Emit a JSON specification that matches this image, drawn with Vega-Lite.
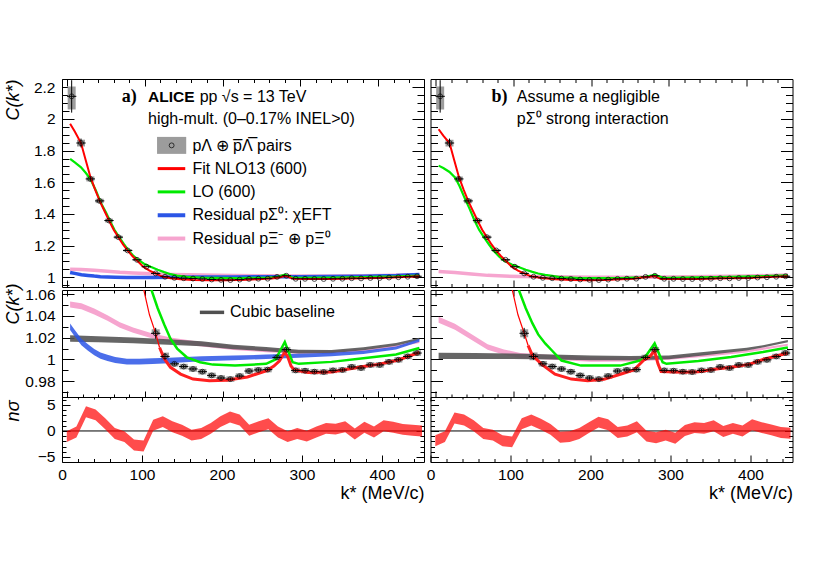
{
  "$schema": "https://vega.github.io/schema/vega-lite/v6.json",
  "background": "white",
  "padding": {"left": 3, "top": 71, "right": 0, "bottom": 0},
  "config": {
    "font": "Liberation Sans",
    "view": {"stroke": "black", "strokeWidth": 1},
    "axis": {"domain": false, "grid": false, "tickColor": "black", "tickWidth": 1, "labelColor": "black", "labelFont": "Liberation Sans", "labelFontSize": 15.5, "titleFont": "Liberation Sans", "titleFontSize": 18, "titleFontWeight": "normal", "titleColor": "black", "zindex": 1, "labelFlush": false, "labelOverlap": false},
    "text": {"font": "Liberation Sans", "fontSize": 16, "color": "black"}
  },
  "datasets": {
    "pts": [
      {"k": 6, "C": 2.143, "slo": 2.04, "shi": 2.245, "ylo": 2.06, "yhi": 2.205, "klo": 0, "khi": 12},
      {"k": 18, "C": 1.848, "slo": 1.82, "shi": 1.876, "ylo": 1.826, "yhi": 1.869, "klo": 12, "khi": 24},
      {"k": 30, "C": 1.621, "slo": 1.609, "shi": 1.633, "ylo": 1.605, "yhi": 1.637, "klo": 24, "khi": 36},
      {"k": 42, "C": 1.482, "slo": 1.472, "shi": 1.492, "ylo": 1.468, "yhi": 1.496, "klo": 36, "khi": 48},
      {"k": 54, "C": 1.358, "slo": 1.35, "shi": 1.366, "ylo": 1.346, "yhi": 1.37, "klo": 48, "khi": 60},
      {"k": 66, "C": 1.253, "slo": 1.247, "shi": 1.259, "ylo": 1.243, "yhi": 1.263, "klo": 60, "khi": 72},
      {"k": 78, "C": 1.169, "slo": 1.164, "shi": 1.174, "ylo": 1.161, "yhi": 1.177, "klo": 72, "khi": 84},
      {"k": 90, "C": 1.11, "slo": 1.106, "shi": 1.114, "ylo": 1.103, "yhi": 1.117, "klo": 84, "khi": 96},
      {"k": 102, "C": 1.066, "slo": 1.0645, "shi": 1.0675, "ylo": 1.0642, "yhi": 1.0678, "klo": 96, "khi": 108},
      {"k": 114, "C": 1.024, "slo": 1.019, "shi": 1.029, "ylo": 1.0203, "yhi": 1.0277, "klo": 108, "khi": 120},
      {"k": 126, "C": 1.0028, "slo": 0.9998, "shi": 1.0058, "ylo": 0.9993, "yhi": 1.0063, "klo": 120, "khi": 132},
      {"k": 138, "C": 0.996, "slo": 0.9945, "shi": 0.9975, "ylo": 0.9935, "yhi": 0.9985, "klo": 132, "khi": 144},
      {"k": 150, "C": 0.9935, "slo": 0.992, "shi": 0.995, "ylo": 0.991, "yhi": 0.996, "klo": 144, "khi": 156},
      {"k": 162, "C": 0.9913, "slo": 0.9898, "shi": 0.9928, "ylo": 0.9888, "yhi": 0.9938, "klo": 156, "khi": 168},
      {"k": 174, "C": 0.9888, "slo": 0.9873, "shi": 0.9903, "ylo": 0.9863, "yhi": 0.9913, "klo": 168, "khi": 180},
      {"k": 186, "C": 0.9854, "slo": 0.9839, "shi": 0.9869, "ylo": 0.9829, "yhi": 0.9879, "klo": 180, "khi": 192},
      {"k": 198, "C": 0.983, "slo": 0.9815, "shi": 0.9845, "ylo": 0.9805, "yhi": 0.9855, "klo": 192, "khi": 204},
      {"k": 210, "C": 0.982, "slo": 0.9805, "shi": 0.9835, "ylo": 0.9795, "yhi": 0.9845, "klo": 204, "khi": 216},
      {"k": 222, "C": 0.9848, "slo": 0.9833, "shi": 0.9863, "ylo": 0.9823, "yhi": 0.9873, "klo": 216, "khi": 228},
      {"k": 234, "C": 0.9894, "slo": 0.9879, "shi": 0.9909, "ylo": 0.9869, "yhi": 0.9919, "klo": 228, "khi": 240},
      {"k": 246, "C": 0.9904, "slo": 0.9889, "shi": 0.9919, "ylo": 0.9879, "yhi": 0.9929, "klo": 240, "khi": 252},
      {"k": 258, "C": 0.9907, "slo": 0.9892, "shi": 0.9922, "ylo": 0.9882, "yhi": 0.9932, "klo": 252, "khi": 264},
      {"k": 270, "C": 1.0019, "slo": 1.0004, "shi": 1.0034, "ylo": 0.9994, "yhi": 1.0044, "klo": 264, "khi": 276},
      {"k": 282, "C": 1.009, "slo": 1.0075, "shi": 1.0105, "ylo": 1.0065, "yhi": 1.0115, "klo": 276, "khi": 288},
      {"k": 294, "C": 0.99, "slo": 0.9885, "shi": 0.9915, "ylo": 0.9875, "yhi": 0.9925, "klo": 288, "khi": 300},
      {"k": 306, "C": 0.9897, "slo": 0.9882, "shi": 0.9912, "ylo": 0.9872, "yhi": 0.9922, "klo": 300, "khi": 312},
      {"k": 318, "C": 0.9888, "slo": 0.9873, "shi": 0.9903, "ylo": 0.9863, "yhi": 0.9913, "klo": 312, "khi": 324},
      {"k": 330, "C": 0.9885, "slo": 0.987, "shi": 0.99, "ylo": 0.986, "yhi": 0.991, "klo": 324, "khi": 336},
      {"k": 342, "C": 0.99, "slo": 0.9885, "shi": 0.9915, "ylo": 0.9875, "yhi": 0.9925, "klo": 336, "khi": 348},
      {"k": 354, "C": 0.9904, "slo": 0.9889, "shi": 0.9919, "ylo": 0.9879, "yhi": 0.9929, "klo": 348, "khi": 360},
      {"k": 366, "C": 0.9932, "slo": 0.9917, "shi": 0.9947, "ylo": 0.9907, "yhi": 0.9957, "klo": 360, "khi": 372},
      {"k": 378, "C": 0.9922, "slo": 0.9907, "shi": 0.9937, "ylo": 0.9897, "yhi": 0.9947, "klo": 372, "khi": 384},
      {"k": 390, "C": 0.995, "slo": 0.9935, "shi": 0.9965, "ylo": 0.9925, "yhi": 0.9975, "klo": 384, "khi": 396},
      {"k": 402, "C": 0.995, "slo": 0.9935, "shi": 0.9965, "ylo": 0.9925, "yhi": 0.9975, "klo": 396, "khi": 408},
      {"k": 414, "C": 0.9978, "slo": 0.9963, "shi": 0.9993, "ylo": 0.9953, "yhi": 1.0003, "klo": 408, "khi": 420},
      {"k": 426, "C": 0.9997, "slo": 0.9982, "shi": 1.0012, "ylo": 0.9972, "yhi": 1.0022, "klo": 420, "khi": 432},
      {"k": 438, "C": 1.0028, "slo": 1.0013, "shi": 1.0043, "ylo": 1.0003, "yhi": 1.0053, "klo": 432, "khi": 444},
      {"k": 450, "C": 1.0059, "slo": 1.0044, "shi": 1.0074, "ylo": 1.0034, "yhi": 1.0084, "klo": 444, "khi": 456}
    ],
    "cur": [
      {"p": "a", "s": "red", "k": 4, "c": 1.97}, {"p": "a", "s": "red", "k": 10, "c": 1.92}, {"p": "a", "s": "red", "k": 18, "c": 1.848}, {"p": "a", "s": "red", "k": 24, "c": 1.74}, {"p": "a", "s": "red", "k": 30, "c": 1.635}, {"p": "a", "s": "red", "k": 36, "c": 1.555}, {"p": "a", "s": "red", "k": 42, "c": 1.482}, {"p": "a", "s": "red", "k": 48, "c": 1.42}, {"p": "a", "s": "red", "k": 54, "c": 1.358}, {"p": "a", "s": "red", "k": 60, "c": 1.3}, {"p": "a", "s": "red", "k": 66, "c": 1.253}, {"p": "a", "s": "red", "k": 72, "c": 1.207}, {"p": "a", "s": "red", "k": 78, "c": 1.168}, {"p": "a", "s": "red", "k": 84, "c": 1.134}, {"p": "a", "s": "red", "k": 90, "c": 1.105}, {"p": "a", "s": "red", "k": 98, "c": 1.066}, {"p": "a", "s": "red", "k": 106, "c": 1.041}, {"p": "a", "s": "red", "k": 114, "c": 1.024}, {"p": "a", "s": "red", "k": 119, "c": 1.011}, {"p": "a", "s": "red", "k": 125, "c": 1.0007}, {"p": "a", "s": "red", "k": 133, "c": 0.9928}, {"p": "a", "s": "red", "k": 146, "c": 0.9866}, {"p": "a", "s": "red", "k": 162, "c": 0.982}, {"p": "a", "s": "red", "k": 183, "c": 0.9805}, {"p": "a", "s": "red", "k": 205, "c": 0.981}, {"p": "a", "s": "red", "k": 232, "c": 0.984}, {"p": "a", "s": "red", "k": 256, "c": 0.9895}, {"p": "a", "s": "red", "k": 266, "c": 0.994}, {"p": "a", "s": "red", "k": 273, "c": 0.9985}, {"p": "a", "s": "red", "k": 280, "c": 1.0068}, {"p": "a", "s": "red", "k": 284, "c": 1.002}, {"p": "a", "s": "red", "k": 288, "c": 0.994}, {"p": "a", "s": "red", "k": 292, "c": 0.9904}, {"p": "a", "s": "red", "k": 310, "c": 0.988}, {"p": "a", "s": "red", "k": 340, "c": 0.9885}, {"p": "a", "s": "red", "k": 381, "c": 0.9935}, {"p": "a", "s": "red", "k": 400, "c": 0.9955}, {"p": "a", "s": "red", "k": 426, "c": 0.9995}, {"p": "a", "s": "red", "k": 453, "c": 1.0065},
      {"p": "a", "s": "green", "k": 4, "c": 1.747}, {"p": "a", "s": "green", "k": 10, "c": 1.725}, {"p": "a", "s": "green", "k": 18, "c": 1.694}, {"p": "a", "s": "green", "k": 24, "c": 1.66}, {"p": "a", "s": "green", "k": 30, "c": 1.621}, {"p": "a", "s": "green", "k": 37, "c": 1.55}, {"p": "a", "s": "green", "k": 44, "c": 1.465}, {"p": "a", "s": "green", "k": 50, "c": 1.41}, {"p": "a", "s": "green", "k": 55, "c": 1.358}, {"p": "a", "s": "green", "k": 61, "c": 1.3}, {"p": "a", "s": "green", "k": 67, "c": 1.253}, {"p": "a", "s": "green", "k": 73, "c": 1.21}, {"p": "a", "s": "green", "k": 79, "c": 1.169}, {"p": "a", "s": "green", "k": 85, "c": 1.137}, {"p": "a", "s": "green", "k": 92, "c": 1.108}, {"p": "a", "s": "green", "k": 99, "c": 1.085}, {"p": "a", "s": "green", "k": 107.5, "c": 1.066}, {"p": "a", "s": "green", "k": 116.6, "c": 1.047}, {"p": "a", "s": "green", "k": 125, "c": 1.032}, {"p": "a", "s": "green", "k": 133, "c": 1.019}, {"p": "a", "s": "green", "k": 141.6, "c": 1.01}, {"p": "a", "s": "green", "k": 154, "c": 1.002}, {"p": "a", "s": "green", "k": 171, "c": 0.9975}, {"p": "a", "s": "green", "k": 187.5, "c": 0.9953}, {"p": "a", "s": "green", "k": 216, "c": 0.9944}, {"p": "a", "s": "green", "k": 256, "c": 0.996}, {"p": "a", "s": "green", "k": 268, "c": 1.0}, {"p": "a", "s": "green", "k": 280, "c": 1.016}, {"p": "a", "s": "green", "k": 290, "c": 0.9975}, {"p": "a", "s": "green", "k": 298, "c": 0.996}, {"p": "a", "s": "green", "k": 340, "c": 0.9978}, {"p": "a", "s": "green", "k": 381, "c": 1.0012}, {"p": "a", "s": "green", "k": 423, "c": 1.0046}, {"p": "a", "s": "green", "k": 453, "c": 1.0105},
      {"p": "a", "s": "blue", "k": 4, "c": 1.03, "lo": 1.027, "hi": 1.033}, {"p": "a", "s": "blue", "k": 10, "c": 1.024, "lo": 1.021, "hi": 1.027}, {"p": "a", "s": "blue", "k": 18.5, "c": 1.016, "lo": 1.0131, "hi": 1.0189}, {"p": "a", "s": "blue", "k": 27, "c": 1.011, "lo": 1.0081, "hi": 1.0139}, {"p": "a", "s": "blue", "k": 35, "c": 1.0068, "lo": 1.0039, "hi": 1.0097}, {"p": "a", "s": "blue", "k": 43, "c": 1.0035, "lo": 1.0007, "hi": 1.0063}, {"p": "a", "s": "blue", "k": 52, "c": 1.0015, "lo": 0.9987, "hi": 1.0043}, {"p": "a", "s": "blue", "k": 62, "c": 0.9995, "lo": 0.9967, "hi": 1.0023}, {"p": "a", "s": "blue", "k": 77, "c": 0.998, "lo": 0.9953, "hi": 1.0007}, {"p": "a", "s": "blue", "k": 93, "c": 0.998, "lo": 0.9954, "hi": 1.0006}, {"p": "a", "s": "blue", "k": 110, "c": 0.9985, "lo": 0.9959, "hi": 1.0011}, {"p": "a", "s": "blue", "k": 131, "c": 0.999, "lo": 0.9965, "hi": 1.0015}, {"p": "a", "s": "blue", "k": 173, "c": 1.0006, "lo": 0.9983, "hi": 1.0029}, {"p": "a", "s": "blue", "k": 214, "c": 1.0015, "lo": 0.9994, "hi": 1.0036}, {"p": "a", "s": "blue", "k": 256, "c": 1.0025, "lo": 1.0005, "hi": 1.0045}, {"p": "a", "s": "blue", "k": 298, "c": 1.0035, "lo": 1.0017, "hi": 1.0053}, {"p": "a", "s": "blue", "k": 340, "c": 1.0045, "lo": 1.0029, "hi": 1.0061}, {"p": "a", "s": "blue", "k": 381, "c": 1.0065, "lo": 1.005, "hi": 1.008}, {"p": "a", "s": "blue", "k": 423, "c": 1.0105, "lo": 1.0092, "hi": 1.0118}, {"p": "a", "s": "blue", "k": 453, "c": 1.0175, "lo": 1.0163, "hi": 1.0187},
      {"p": "a", "s": "pink", "k": 4, "c": 1.0504, "lo": 1.0476, "hi": 1.0532}, {"p": "a", "s": "pink", "k": 18.5, "c": 1.0488, "lo": 1.0461, "hi": 1.0515}, {"p": "a", "s": "pink", "k": 35, "c": 1.044, "lo": 1.0413, "hi": 1.0467}, {"p": "a", "s": "pink", "k": 52, "c": 1.038, "lo": 1.0354, "hi": 1.0406}, {"p": "a", "s": "pink", "k": 68, "c": 1.0317, "lo": 1.0292, "hi": 1.0342}, {"p": "a", "s": "pink", "k": 85, "c": 1.027, "lo": 1.0246, "hi": 1.0294}, {"p": "a", "s": "pink", "k": 110, "c": 1.0215, "lo": 1.0192, "hi": 1.0238}, {"p": "a", "s": "pink", "k": 135, "c": 1.0177, "lo": 1.0155, "hi": 1.0199}, {"p": "a", "s": "pink", "k": 173, "c": 1.014, "lo": 1.0119, "hi": 1.0161}, {"p": "a", "s": "pink", "k": 214, "c": 1.0106, "lo": 1.0087, "hi": 1.0125}, {"p": "a", "s": "pink", "k": 256, "c": 1.0084, "lo": 1.0067, "hi": 1.0101}, {"p": "a", "s": "pink", "k": 298, "c": 1.0068, "lo": 1.0053, "hi": 1.0083}, {"p": "a", "s": "pink", "k": 340, "c": 1.0068, "lo": 1.0054, "hi": 1.0082}, {"p": "a", "s": "pink", "k": 381, "c": 1.0084, "lo": 1.0072, "hi": 1.0096}, {"p": "a", "s": "pink", "k": 423, "c": 1.0121, "lo": 1.0111, "hi": 1.0131}, {"p": "a", "s": "pink", "k": 453, "c": 1.016, "lo": 1.0151, "hi": 1.0169},
      {"p": "a", "s": "gray", "k": 4, "c": 1.0192, "lo": 1.0162, "hi": 1.0222}, {"p": "a", "s": "gray", "k": 40, "c": 1.0185, "lo": 1.0157, "hi": 1.0213}, {"p": "a", "s": "gray", "k": 85, "c": 1.0175, "lo": 1.0149, "hi": 1.0201}, {"p": "a", "s": "gray", "k": 130, "c": 1.016, "lo": 1.0135, "hi": 1.0185}, {"p": "a", "s": "gray", "k": 173, "c": 1.0145, "lo": 1.0122, "hi": 1.0168}, {"p": "a", "s": "gray", "k": 214, "c": 1.0115, "lo": 1.0094, "hi": 1.0136}, {"p": "a", "s": "gray", "k": 256, "c": 1.0095, "lo": 1.0076, "hi": 1.0114}, {"p": "a", "s": "gray", "k": 298, "c": 1.0072, "lo": 1.0055, "hi": 1.0089}, {"p": "a", "s": "gray", "k": 340, "c": 1.0072, "lo": 1.0056, "hi": 1.0088}, {"p": "a", "s": "gray", "k": 381, "c": 1.0098, "lo": 1.0084, "hi": 1.0112}, {"p": "a", "s": "gray", "k": 423, "c": 1.0138, "lo": 1.0126, "hi": 1.015}, {"p": "a", "s": "gray", "k": 453, "c": 1.0188, "lo": 1.0177, "hi": 1.0199},
      {"p": "b", "s": "red", "k": 4, "c": 1.935}, {"p": "b", "s": "red", "k": 10, "c": 1.895}, {"p": "b", "s": "red", "k": 18, "c": 1.848}, {"p": "b", "s": "red", "k": 24, "c": 1.74}, {"p": "b", "s": "red", "k": 30, "c": 1.635}, {"p": "b", "s": "red", "k": 36, "c": 1.555}, {"p": "b", "s": "red", "k": 42, "c": 1.482}, {"p": "b", "s": "red", "k": 48, "c": 1.42}, {"p": "b", "s": "red", "k": 54, "c": 1.358}, {"p": "b", "s": "red", "k": 60, "c": 1.3}, {"p": "b", "s": "red", "k": 66, "c": 1.253}, {"p": "b", "s": "red", "k": 72, "c": 1.207}, {"p": "b", "s": "red", "k": 78, "c": 1.168}, {"p": "b", "s": "red", "k": 84, "c": 1.134}, {"p": "b", "s": "red", "k": 90, "c": 1.105}, {"p": "b", "s": "red", "k": 98, "c": 1.066}, {"p": "b", "s": "red", "k": 106, "c": 1.041}, {"p": "b", "s": "red", "k": 114, "c": 1.024}, {"p": "b", "s": "red", "k": 119, "c": 1.013}, {"p": "b", "s": "red", "k": 124.5, "c": 1.0037}, {"p": "b", "s": "red", "k": 137, "c": 0.9953}, {"p": "b", "s": "red", "k": 153.6, "c": 0.9866}, {"p": "b", "s": "red", "k": 174.6, "c": 0.982}, {"p": "b", "s": "red", "k": 195.6, "c": 0.9804}, {"p": "b", "s": "red", "k": 216.6, "c": 0.9818}, {"p": "b", "s": "red", "k": 237.6, "c": 0.9865}, {"p": "b", "s": "red", "k": 255, "c": 0.9904}, {"p": "b", "s": "red", "k": 267.6, "c": 0.9994}, {"p": "b", "s": "red", "k": 275.4, "c": 1.0025}, {"p": "b", "s": "red", "k": 281.5, "c": 1.008}, {"p": "b", "s": "red", "k": 286, "c": 0.996}, {"p": "b", "s": "red", "k": 290, "c": 0.989}, {"p": "b", "s": "red", "k": 319, "c": 0.9882}, {"p": "b", "s": "red", "k": 338, "c": 0.9887}, {"p": "b", "s": "red", "k": 361, "c": 0.9913}, {"p": "b", "s": "red", "k": 380, "c": 0.9928}, {"p": "b", "s": "red", "k": 403, "c": 0.9955}, {"p": "b", "s": "red", "k": 421, "c": 1.0}, {"p": "b", "s": "red", "k": 453, "c": 1.006},
      {"p": "b", "s": "green", "k": 4, "c": 1.705}, {"p": "b", "s": "green", "k": 10, "c": 1.69}, {"p": "b", "s": "green", "k": 18, "c": 1.665}, {"p": "b", "s": "green", "k": 25, "c": 1.631}, {"p": "b", "s": "green", "k": 31, "c": 1.575}, {"p": "b", "s": "green", "k": 37.5, "c": 1.5}, {"p": "b", "s": "green", "k": 44, "c": 1.43}, {"p": "b", "s": "green", "k": 50, "c": 1.36}, {"p": "b", "s": "green", "k": 56, "c": 1.3}, {"p": "b", "s": "green", "k": 62.6, "c": 1.25}, {"p": "b", "s": "green", "k": 69, "c": 1.205}, {"p": "b", "s": "green", "k": 75, "c": 1.165}, {"p": "b", "s": "green", "k": 82, "c": 1.13}, {"p": "b", "s": "green", "k": 88, "c": 1.105}, {"p": "b", "s": "green", "k": 98, "c": 1.08}, {"p": "b", "s": "green", "k": 107.5, "c": 1.063}, {"p": "b", "s": "green", "k": 116, "c": 1.047}, {"p": "b", "s": "green", "k": 124.5, "c": 1.0333}, {"p": "b", "s": "green", "k": 132, "c": 1.023}, {"p": "b", "s": "green", "k": 141, "c": 1.0147}, {"p": "b", "s": "green", "k": 150, "c": 1.008}, {"p": "b", "s": "green", "k": 162, "c": 0.999}, {"p": "b", "s": "green", "k": 187, "c": 0.9944}, {"p": "b", "s": "green", "k": 237.6, "c": 0.9944}, {"p": "b", "s": "green", "k": 262.8, "c": 0.999}, {"p": "b", "s": "green", "k": 268, "c": 1.0006}, {"p": "b", "s": "green", "k": 281.7, "c": 1.0147}, {"p": "b", "s": "green", "k": 292, "c": 0.9975}, {"p": "b", "s": "green", "k": 297, "c": 0.996}, {"p": "b", "s": "green", "k": 338, "c": 0.9985}, {"p": "b", "s": "green", "k": 380, "c": 1.0022}, {"p": "b", "s": "green", "k": 421, "c": 1.0068}, {"p": "b", "s": "green", "k": 453, "c": 1.011},
      {"p": "b", "s": "pink", "k": 4, "c": 1.0364, "lo": 1.0336, "hi": 1.0392}, {"p": "b", "s": "pink", "k": 25, "c": 1.03, "lo": 1.0273, "hi": 1.0327}, {"p": "b", "s": "pink", "k": 46, "c": 1.0208, "lo": 1.0182, "hi": 1.0234}, {"p": "b", "s": "pink", "k": 67, "c": 1.0115, "lo": 1.009, "hi": 1.014}, {"p": "b", "s": "pink", "k": 88, "c": 1.0068, "lo": 1.0044, "hi": 1.0092}, {"p": "b", "s": "pink", "k": 109, "c": 1.0037, "lo": 1.0014, "hi": 1.006}, {"p": "b", "s": "pink", "k": 151, "c": 1.002, "lo": 0.9998, "hi": 1.0042}, {"p": "b", "s": "pink", "k": 200, "c": 1.0, "lo": 0.998, "hi": 1.002}, {"p": "b", "s": "pink", "k": 250, "c": 1.0, "lo": 0.9982, "hi": 1.0018}, {"p": "b", "s": "pink", "k": 300, "c": 1.0012, "lo": 0.9997, "hi": 1.0027}, {"p": "b", "s": "pink", "k": 350, "c": 1.004, "lo": 1.0027, "hi": 1.0053}, {"p": "b", "s": "pink", "k": 400, "c": 1.0075, "lo": 1.0064, "hi": 1.0086}, {"p": "b", "s": "pink", "k": 453, "c": 1.0135, "lo": 1.0126, "hi": 1.0144},
      {"p": "b", "s": "gray", "k": 4, "c": 1.0033, "lo": 1.0005, "hi": 1.0061}, {"p": "b", "s": "gray", "k": 50, "c": 1.0032, "lo": 1.0005, "hi": 1.0059}, {"p": "b", "s": "gray", "k": 100, "c": 1.003, "lo": 1.0005, "hi": 1.0055}, {"p": "b", "s": "gray", "k": 150, "c": 1.0022, "lo": 0.9999, "hi": 1.0045}, {"p": "b", "s": "gray", "k": 200, "c": 1.0015, "lo": 0.9994, "hi": 1.0036}, {"p": "b", "s": "gray", "k": 250, "c": 1.0012, "lo": 0.9993, "hi": 1.0031}, {"p": "b", "s": "gray", "k": 300, "c": 1.002, "lo": 1.0003, "hi": 1.0037}, {"p": "b", "s": "gray", "k": 338, "c": 1.0048, "lo": 1.0033, "hi": 1.0063}, {"p": "b", "s": "gray", "k": 361, "c": 1.0065, "lo": 1.0051, "hi": 1.0079}, {"p": "b", "s": "gray", "k": 400, "c": 1.0095, "lo": 1.0083, "hi": 1.0107}, {"p": "b", "s": "gray", "k": 421, "c": 1.012, "lo": 1.0109, "hi": 1.0131}, {"p": "b", "s": "gray", "k": 453, "c": 1.0168, "lo": 1.0158, "hi": 1.0178}
    ],
    "ns": [
      {"p": "a", "k": 6, "lo": -2.15, "hi": -0.05}, {"p": "a", "k": 18, "lo": -1.25, "hi": 0.85}, {"p": "a", "k": 30, "lo": 2.65, "hi": 4.75}, {"p": "a", "k": 42, "lo": 2.05, "hi": 4.15}, {"p": "a", "k": 54, "lo": 0.35, "hi": 2.45}, {"p": "a", "k": 66, "lo": -1.55, "hi": 0.55}, {"p": "a", "k": 78, "lo": -2.15, "hi": -0.05}, {"p": "a", "k": 90, "lo": -3.75, "hi": -1.65}, {"p": "a", "k": 102, "lo": -3.95, "hi": -1.85}, {"p": "a", "k": 114, "lo": 0.05, "hi": 2.15}, {"p": "a", "k": 126, "lo": 0.75, "hi": 2.85}, {"p": "a", "k": 138, "lo": -0.25, "hi": 1.85}, {"p": "a", "k": 150, "lo": -0.9, "hi": 1.2}, {"p": "a", "k": 162, "lo": -1.85, "hi": 0.25}, {"p": "a", "k": 174, "lo": -1.55, "hi": 0.55}, {"p": "a", "k": 186, "lo": -0.55, "hi": 1.55}, {"p": "a", "k": 198, "lo": 0.75, "hi": 2.85}, {"p": "a", "k": 210, "lo": 1.65, "hi": 3.75}, {"p": "a", "k": 222, "lo": 1.05, "hi": 3.15}, {"p": "a", "k": 234, "lo": -0.9, "hi": 1.2}, {"p": "a", "k": 246, "lo": -0.25, "hi": 1.85}, {"p": "a", "k": 258, "lo": 0.35, "hi": 2.45}, {"p": "a", "k": 270, "lo": -1.25, "hi": 0.85}, {"p": "a", "k": 282, "lo": -2.15, "hi": -0.05}, {"p": "a", "k": 294, "lo": -1.55, "hi": 0.55}, {"p": "a", "k": 306, "lo": -2.05, "hi": 0.05}, {"p": "a", "k": 318, "lo": -1.25, "hi": 0.85}, {"p": "a", "k": 330, "lo": -0.55, "hi": 1.55}, {"p": "a", "k": 342, "lo": -0.7, "hi": 1.4}, {"p": "a", "k": 354, "lo": -0.25, "hi": 1.85}, {"p": "a", "k": 366, "lo": -1.65, "hi": 0.45}, {"p": "a", "k": 378, "lo": -0.35, "hi": 1.75}, {"p": "a", "k": 390, "lo": -1.25, "hi": 0.85}, {"p": "a", "k": 402, "lo": -0.05, "hi": 2.05}, {"p": "a", "k": 414, "lo": -0.35, "hi": 1.75}, {"p": "a", "k": 426, "lo": -0.75, "hi": 1.35}, {"p": "a", "k": 438, "lo": -0.9, "hi": 1.2}, {"p": "a", "k": 450, "lo": -1.05, "hi": 1.05},
      {"p": "b", "k": 6, "lo": -2.95, "hi": -0.85}, {"p": "b", "k": 18, "lo": -2.15, "hi": -0.05}, {"p": "b", "k": 30, "lo": 1.45, "hi": 3.55}, {"p": "b", "k": 42, "lo": 1.05, "hi": 3.15}, {"p": "b", "k": 54, "lo": -0.05, "hi": 2.05}, {"p": "b", "k": 66, "lo": -1.55, "hi": 0.55}, {"p": "b", "k": 78, "lo": -1.85, "hi": 0.25}, {"p": "b", "k": 90, "lo": -2.95, "hi": -0.85}, {"p": "b", "k": 102, "lo": -3.15, "hi": -1.05}, {"p": "b", "k": 114, "lo": 0.35, "hi": 2.45}, {"p": "b", "k": 126, "lo": 1.05, "hi": 3.15}, {"p": "b", "k": 138, "lo": 0.25, "hi": 2.35}, {"p": "b", "k": 150, "lo": -0.75, "hi": 1.35}, {"p": "b", "k": 162, "lo": -2.25, "hi": -0.15}, {"p": "b", "k": 174, "lo": -2.15, "hi": -0.05}, {"p": "b", "k": 186, "lo": -1.55, "hi": 0.55}, {"p": "b", "k": 198, "lo": -0.4, "hi": 1.7}, {"p": "b", "k": 210, "lo": 0.65, "hi": 2.75}, {"p": "b", "k": 222, "lo": 0.15, "hi": 2.25}, {"p": "b", "k": 234, "lo": -1.35, "hi": 0.75}, {"p": "b", "k": 246, "lo": -1.05, "hi": 1.05}, {"p": "b", "k": 258, "lo": -0.25, "hi": 1.85}, {"p": "b", "k": 270, "lo": -2.05, "hi": 0.05}, {"p": "b", "k": 282, "lo": -2.35, "hi": -0.25}, {"p": "b", "k": 294, "lo": -1.85, "hi": 0.25}, {"p": "b", "k": 306, "lo": -2.45, "hi": -0.35}, {"p": "b", "k": 318, "lo": -0.95, "hi": 1.15}, {"p": "b", "k": 330, "lo": -0.4, "hi": 1.7}, {"p": "b", "k": 342, "lo": -0.55, "hi": 1.55}, {"p": "b", "k": 354, "lo": -0.05, "hi": 2.05}, {"p": "b", "k": 366, "lo": -1.15, "hi": 0.95}, {"p": "b", "k": 378, "lo": -0.55, "hi": 1.55}, {"p": "b", "k": 390, "lo": -1.05, "hi": 1.05}, {"p": "b", "k": 402, "lo": 0.15, "hi": 2.25}, {"p": "b", "k": 414, "lo": -0.4, "hi": 1.7}, {"p": "b", "k": 426, "lo": -0.85, "hi": 1.25}, {"p": "b", "k": 438, "lo": -1.35, "hi": 0.75}, {"p": "b", "k": 450, "lo": -1.5, "hi": 0.6}
    ]
  },
  "spacing": 0.5,
  "hconcat": [
    {
      "bounds": "flush",
      "spacing": 3,
      "vconcat": [
        {
          "width": 362, "height": 208,
          "resolve": {"axis": {"x": "independent", "y": "independent"}},
          "layer": [
            {"data": {"name": "pts"}, "mark": {"type": "bar", "size": 8, "color": "#9c9c9c", "clip": true},
             "encoding": {
               "x": {"field": "k", "type": "quantitative", "scale": {"domain": [0, 452.5], "nice": false, "zero": false},
                     "axis": {"orient": "bottom", "values": [0,20,40,60,80,100,120,140,160,180,200,220,240,260,280,300,320,340,360,380,400,420,440], "labels": false, "title": null, "tickSize": {"condition": {"test": "datum.value % 100 === 0", "value": -7}, "value": -3.5}}},
               "y": {"field": "ylo", "type": "quantitative", "scale": {"domain": [0.938, 2.2525], "nice": false, "zero": false},
                     "axis": {"orient": "left", "values": [0.95,1,1.05,1.1,1.15,1.2,1.25,1.3,1.35,1.4,1.45,1.5,1.55,1.6,1.65,1.7,1.75,1.8,1.85,1.9,1.95,2,2.05,2.1,2.15,2.2,2.25], "labelExpr": "abs(datum.value*5-round(datum.value*5))<0.001 ? format(datum.value,'~g') : ''", "tickSize": {"condition": {"test": "abs(datum.value*5-round(datum.value*5))<0.001", "value": -12}, "value": -7}, "labelPadding": 19, "title": "C(k*)", "titleFontStyle": "italic", "titleAngle": 270, "titleAlign": "right", "titleBaseline": "bottom", "titleX": -40, "titleY": 0}},
               "y2": {"field": "yhi"}}},
            {"data": {"name": "cur"}, "transform": [{"filter": "datum.p === 'a' && datum.s === 'pink'"}], "mark": {"type": "line", "color": "#f6a5cf", "strokeWidth": 3.5, "clip": true},
             "encoding": {"x": {"field": "k", "type": "quantitative", "axis": null}, "y": {"field": "c", "type": "quantitative", "axis": null}}},
            {"data": {"name": "cur"}, "transform": [{"filter": "datum.p === 'a' && datum.s === 'blue'"}], "mark": {"type": "line", "color": "#2b55e6", "strokeWidth": 3.5, "clip": true},
             "encoding": {"x": {"field": "k", "type": "quantitative", "axis": null}, "y": {"field": "c", "type": "quantitative", "axis": null}}},
            {"data": {"name": "cur"}, "transform": [{"filter": "datum.p === 'a' && datum.s === 'green'"}], "mark": {"type": "line", "color": "#00ea00", "strokeWidth": 2.2, "clip": true},
             "encoding": {"x": {"field": "k", "type": "quantitative", "axis": null}, "y": {"field": "c", "type": "quantitative", "axis": null}}},
            {"data": {"name": "cur"}, "transform": [{"filter": "datum.p === 'a' && datum.s === 'red'"}], "mark": {"type": "line", "color": "#ff0000", "strokeWidth": 2, "clip": true},
             "encoding": {"x": {"field": "k", "type": "quantitative", "axis": null}, "y": {"field": "c", "type": "quantitative", "axis": null}}},
            {"data": {"name": "pts"}, "mark": {"type": "rule", "color": "black", "strokeWidth": 1, "clip": true},
             "encoding": {"x": {"field": "klo", "type": "quantitative", "axis": null}, "x2": {"field": "khi"}, "y": {"field": "C", "type": "quantitative", "axis": null}}},
            {"data": {"name": "pts"}, "mark": {"type": "rule", "color": "black", "strokeWidth": 1, "clip": true},
             "encoding": {"x": {"field": "k", "type": "quantitative", "axis": null}, "y": {"field": "slo", "type": "quantitative", "axis": null}, "y2": {"field": "shi"}}},
            {"data": {"name": "pts"}, "mark": {"type": "point", "shape": "circle", "filled": false, "size": 24, "strokeWidth": 1, "color": "black", "clip": true},
             "encoding": {
               "x": {"field": "k", "type": "quantitative", "axis": {"orient": "top", "values": [0,20,40,60,80,100,120,140,160,180,200,220,240,260,280,300,320,340,360,380,400,420,440], "labels": false, "title": null, "tickSize": {"condition": {"test": "datum.value % 100 === 0", "value": -7}, "value": -3.5}}},
               "y": {"field": "C", "type": "quantitative", "axis": {"orient": "right", "values": [0.95,1,1.05,1.1,1.15,1.2,1.25,1.3,1.35,1.4,1.45,1.5,1.55,1.6,1.65,1.7,1.75,1.8,1.85,1.9,1.95,2,2.05,2.1,2.15,2.2,2.25], "labels": false, "title": null, "tickSize": {"condition": {"test": "abs(datum.value*5-round(datum.value*5))<0.001", "value": -12}, "value": -7}}}}},
            {"data": {"values": [{}]}, "mark": {"type": "rect", "color": "#9c9c9c"},
             "encoding": {"x": {"datum": 115.75, "type": "quantitative", "axis": null}, "x2": {"datum": 153.25}, "y": {"datum": 1.7793, "type": "quantitative", "axis": null}, "y2": {"datum": 1.8866}}},
            {"data": {"values": [{}]}, "mark": {"type": "point", "shape": "circle", "filled": false, "size": 24, "strokeWidth": 1, "color": "black"},
             "encoding": {"x": {"datum": 134.5, "type": "quantitative", "axis": null}, "y": {"datum": 1.833, "type": "quantitative", "axis": null}}},
            {"data": {"values": [{}]}, "mark": {"type": "rule", "color": "#ff0000", "strokeWidth": 3},
             "encoding": {"x": {"datum": 116.6, "type": "quantitative", "axis": null}, "x2": {"datum": 152}, "y": {"datum": 1.6862, "type": "quantitative", "axis": null}}},
            {"data": {"values": [{}]}, "mark": {"type": "rule", "color": "#00ea00", "strokeWidth": 3},
             "encoding": {"x": {"datum": 116.6, "type": "quantitative", "axis": null}, "x2": {"datum": 152}, "y": {"datum": 1.5391, "type": "quantitative", "axis": null}}},
            {"data": {"values": [{}]}, "mark": {"type": "rule", "color": "#2b55e6", "strokeWidth": 4},
             "encoding": {"x": {"datum": 116.6, "type": "quantitative", "axis": null}, "x2": {"datum": 152}, "y": {"datum": 1.3914, "type": "quantitative", "axis": null}}},
            {"data": {"values": [{}]}, "mark": {"type": "rule", "color": "#f6a5cf", "strokeWidth": 4},
             "encoding": {"x": {"datum": 116.6, "type": "quantitative", "axis": null}, "x2": {"datum": 152}, "y": {"datum": 1.2443, "type": "quantitative", "axis": null}}},
            {"data": {"values": [{}]}, "mark": {"type": "text", "text": "pΛ ⊕ p̅Λ̅ pairs", "align": "left", "baseline": "middle", "fontSize": 16},
             "encoding": {"x": {"datum": 161.3, "type": "quantitative", "axis": null}, "y": {"datum": 1.8314, "type": "quantitative", "axis": null}}},
            {"data": {"values": [{}]}, "mark": {"type": "text", "text": "Fit NLO13 (600)", "align": "left", "baseline": "middle", "fontSize": 16},
             "encoding": {"x": {"datum": 161.3, "type": "quantitative", "axis": null}, "y": {"datum": 1.6862, "type": "quantitative", "axis": null}}},
            {"data": {"values": [{}]}, "mark": {"type": "text", "text": "LO (600)", "align": "left", "baseline": "middle", "fontSize": 16},
             "encoding": {"x": {"datum": 161.3, "type": "quantitative", "axis": null}, "y": {"datum": 1.5391, "type": "quantitative", "axis": null}}},
            {"data": {"values": [{}]}, "mark": {"type": "text", "text": "Residual pΣ⁰: χEFT", "align": "left", "baseline": "middle", "fontSize": 16},
             "encoding": {"x": {"datum": 161.3, "type": "quantitative", "axis": null}, "y": {"datum": 1.3914, "type": "quantitative", "axis": null}}},
            {"data": {"values": [{}]}, "mark": {"type": "text", "text": "Residual pΞ⁻ ⊕ pΞ⁰", "align": "left", "baseline": "middle", "fontSize": 16},
             "encoding": {"x": {"datum": 161.3, "type": "quantitative", "axis": null}, "y": {"datum": 1.2443, "type": "quantitative", "axis": null}}},
            {"data": {"values": [{}]}, "mark": {"type": "text", "text": "a)", "align": "left", "baseline": "alphabetic", "font": "Liberation Serif", "fontWeight": "bold", "fontSize": 18},
             "encoding": {"x": {"datum": 70.4, "type": "quantitative", "axis": null}, "y": {"datum": 2.105, "type": "quantitative", "axis": null}}},
            {"data": {"values": [{}]}, "mark": {"type": "text", "text": "ALICE", "align": "left", "baseline": "alphabetic", "fontWeight": "bold", "fontSize": 15.5},
             "encoding": {"x": {"datum": 104.1, "type": "quantitative", "axis": null}, "y": {"datum": 2.105, "type": "quantitative", "axis": null}}},
            {"data": {"values": [{}]}, "mark": {"type": "text", "text": "pp √s = 13 TeV", "align": "left", "baseline": "alphabetic", "fontSize": 16},
             "encoding": {"x": {"datum": 170.5, "type": "quantitative", "axis": null}, "y": {"datum": 2.105, "type": "quantitative", "axis": null}}},
            {"data": {"values": [{}]}, "mark": {"type": "text", "text": "high-mult. (0–0.17% INEL>0)", "align": "left", "baseline": "alphabetic", "fontSize": 16},
             "encoding": {"x": {"datum": 104.1, "type": "quantitative", "axis": null}, "y": {"datum": 1.968, "type": "quantitative", "axis": null}}}
          ]
        },
        {
          "bounds": "flush",
          "spacing": 0,
          "vconcat": [
            {
              "width": 362, "height": 107,
              "resolve": {"axis": {"x": "independent", "y": "independent"}},
              "layer": [
                {"data": {"name": "pts"}, "mark": {"type": "bar", "size": 8, "color": "#9c9c9c", "clip": true},
                 "encoding": {
                   "x": {"field": "k", "type": "quantitative", "scale": {"domain": [0, 452.5], "nice": false, "zero": false},
                         "axis": {"orient": "bottom", "values": [0,20,40,60,80,100,120,140,160,180,200,220,240,260,280,300,320,340,360,380,400,420,440], "labels": false, "title": null, "tickSize": {"condition": {"test": "datum.value % 100 === 0", "value": -6}, "value": -3}}},
                   "y": {"field": "ylo", "type": "quantitative", "scale": {"domain": [0.9656, 1.0637], "nice": false, "zero": false},
                         "axis": {"orient": "left", "values": [0.97,0.98,0.99,1,1.01,1.02,1.03,1.04,1.05,1.06], "labelExpr": "abs(datum.value*50-round(datum.value*50))<0.001 ? format(datum.value,'~g') : ''", "tickSize": {"condition": {"test": "abs(datum.value*50-round(datum.value*50))<0.001", "value": -12}, "value": -6}, "labelPadding": 19, "title": "C(k*)", "titleFontStyle": "italic", "titleAngle": 270, "titleAlign": "right", "titleBaseline": "bottom", "titleX": -40, "titleY": -7}},
                   "y2": {"field": "yhi"}}},
                {"data": {"name": "cur"}, "transform": [{"filter": "datum.p === 'a' && datum.s === 'pink'"}], "mark": {"type": "area", "color": "#f6a5cf", "clip": true},
                 "encoding": {"x": {"field": "k", "type": "quantitative", "axis": null}, "y": {"field": "lo", "type": "quantitative", "axis": null}, "y2": {"field": "hi"}}},
                {"data": {"name": "cur"}, "transform": [{"filter": "datum.p === 'a' && datum.s === 'gray'"}], "mark": {"type": "area", "color": "#555555", "opacity": 0.9, "clip": true},
                 "encoding": {"x": {"field": "k", "type": "quantitative", "axis": null}, "y": {"field": "lo", "type": "quantitative", "axis": null}, "y2": {"field": "hi"}}},
                {"data": {"name": "cur"}, "transform": [{"filter": "datum.p === 'a' && datum.s === 'blue'"}], "mark": {"type": "area", "color": "#2b55e6", "opacity": 0.85, "clip": true},
                 "encoding": {"x": {"field": "k", "type": "quantitative", "axis": null}, "y": {"field": "lo", "type": "quantitative", "axis": null}, "y2": {"field": "hi"}}},
                {"data": {"name": "cur"}, "transform": [{"filter": "datum.p === 'a' && datum.s === 'green'"}], "mark": {"type": "line", "color": "#00ea00", "strokeWidth": 2.5, "clip": true},
                 "encoding": {"x": {"field": "k", "type": "quantitative", "axis": null}, "y": {"field": "c", "type": "quantitative", "axis": null}}},
                {"data": {"name": "cur"}, "transform": [{"filter": "datum.p === 'a' && datum.s === 'red' && datum.k <= 120"}], "mark": {"type": "line", "color": "#ff0000", "strokeWidth": 1.2, "clip": true},
                 "encoding": {"x": {"field": "k", "type": "quantitative", "axis": null}, "y": {"field": "c", "type": "quantitative", "axis": null}}},
                {"data": {"name": "cur"}, "transform": [{"filter": "datum.p === 'a' && datum.s === 'red' && datum.k >= 118"}], "mark": {"type": "line", "color": "#ff2020", "strokeWidth": 3, "clip": true},
                 "encoding": {"x": {"field": "k", "type": "quantitative", "axis": null}, "y": {"field": "c", "type": "quantitative", "axis": null}}},
                {"data": {"name": "pts"}, "mark": {"type": "rule", "color": "black", "strokeWidth": 1, "clip": true},
                 "encoding": {"x": {"field": "klo", "type": "quantitative", "axis": null}, "x2": {"field": "khi"}, "y": {"field": "C", "type": "quantitative", "axis": null}}},
                {"data": {"name": "pts"}, "mark": {"type": "rule", "color": "black", "strokeWidth": 1, "clip": true},
                 "encoding": {"x": {"field": "k", "type": "quantitative", "axis": null}, "y": {"field": "slo", "type": "quantitative", "axis": null}, "y2": {"field": "shi"}}},
                {"data": {"name": "pts"}, "mark": {"type": "point", "shape": "circle", "filled": false, "size": 24, "strokeWidth": 1, "color": "black", "clip": true},
                 "encoding": {
                   "x": {"field": "k", "type": "quantitative", "axis": {"orient": "top", "values": [0,20,40,60,80,100,120,140,160,180,200,220,240,260,280,300,320,340,360,380,400,420,440], "labels": false, "title": null, "tickSize": {"condition": {"test": "datum.value % 100 === 0", "value": -6}, "value": -3}}},
                   "y": {"field": "C", "type": "quantitative", "axis": {"orient": "right", "values": [0.97,0.98,0.99,1,1.01,1.02,1.03,1.04,1.05,1.06], "labels": false, "title": null, "tickSize": {"condition": {"test": "abs(datum.value*50-round(datum.value*50))<0.001", "value": -12}, "value": -6}}}}},
                {"data": {"values": [{}]}, "mark": {"type": "rule", "color": "#505050", "strokeWidth": 3.5},
                 "encoding": {"x": {"datum": 170.8, "type": "quantitative", "axis": null}, "x2": {"datum": 202}, "y": {"datum": 1.0432, "type": "quantitative", "axis": null}}},
                {"data": {"values": [{}]}, "mark": {"type": "text", "text": "Cubic baseline", "align": "left", "baseline": "middle", "fontSize": 16},
                 "encoding": {"x": {"datum": 209.5, "type": "quantitative", "axis": null}, "y": {"datum": 1.0432, "type": "quantitative", "axis": null}}}
              ]
            },
            {
              "width": 362, "height": 65,
              "resolve": {"axis": {"x": "independent", "y": "independent"}},
              "layer": [
                {"data": {"values": [{}]}, "mark": {"type": "rule", "color": "black", "strokeWidth": 1},
                 "encoding": {
                   "x": {"datum": 0, "type": "quantitative", "scale": {"domain": [0, 452.5], "nice": false, "zero": false},
                         "axis": {"orient": "bottom", "values": [0,20,40,60,80,100,120,140,160,180,200,220,240,260,280,300,320,340,360,380,400,420,440], "labelExpr": "datum.value % 100 === 0 ? datum.label : ''", "tickSize": {"condition": {"test": "datum.value % 100 === 0", "value": -7}, "value": -3.5}, "labelPadding": 12.5, "title": "k* (MeV/c)", "titleX": 362, "titleY": 36, "titleAlign": "right", "titleBaseline": "alphabetic", "titleAnchor": "end"}},
                   "x2": {"datum": 452.5},
                   "y": {"datum": 0, "type": "quantitative", "scale": {"domain": [-5.98, 6.54], "nice": false, "zero": false},
                         "axis": {"orient": "left", "values": [-5,-4,-3,-2,-1,0,1,2,3,4,5,6], "labelExpr": "datum.value % 5 === 0 ? format(datum.value,'~g') : ''", "tickSize": {"condition": {"test": "datum.value % 5 === 0", "value": -8}, "value": -4}, "labelPadding": 15, "title": "nσ", "titleFontStyle": "italic", "titleAngle": 270, "titleAlign": "right", "titleBaseline": "bottom", "titleX": -40, "titleY": 3}}}},
                {"data": {"name": "ns"}, "transform": [{"filter": "datum.p === 'a'"}], "mark": {"type": "area", "color": "#ff0000", "opacity": 0.7, "clip": true},
                 "encoding": {
                   "x": {"field": "k", "type": "quantitative", "axis": {"orient": "top", "values": [0,20,40,60,80,100,120,140,160,180,200,220,240,260,280,300,320,340,360,380,400,420,440], "labels": false, "title": null, "tickSize": {"condition": {"test": "datum.value % 100 === 0", "value": -4}, "value": -2}}},
                   "y": {"field": "lo", "type": "quantitative", "axis": {"orient": "right", "values": [-5,-4,-3,-2,-1,0,1,2,3,4,5,6], "labels": false, "title": null, "tickSize": {"condition": {"test": "datum.value % 5 === 0", "value": -8}, "value": -4}}},
                   "y2": {"field": "hi"}}}
              ]
            }
          ]
        }
      ]
    },
    {
      "bounds": "flush",
      "spacing": 3,
      "vconcat": [
        {
          "width": 362, "height": 208,
          "resolve": {"axis": {"x": "independent", "y": "independent"}},
          "layer": [
            {"data": {"name": "pts"}, "mark": {"type": "bar", "size": 8, "color": "#9c9c9c", "clip": true},
             "encoding": {
               "x": {"field": "k", "type": "quantitative", "scale": {"domain": [0, 452.5], "nice": false, "zero": false},
                     "axis": {"orient": "bottom", "values": [0,20,40,60,80,100,120,140,160,180,200,220,240,260,280,300,320,340,360,380,400,420,440], "labels": false, "title": null, "tickSize": {"condition": {"test": "datum.value % 100 === 0", "value": -7}, "value": -3.5}}},
               "y": {"field": "ylo", "type": "quantitative", "scale": {"domain": [0.938, 2.2525], "nice": false, "zero": false},
                     "axis": {"orient": "left", "values": [0.95,1,1.05,1.1,1.15,1.2,1.25,1.3,1.35,1.4,1.45,1.5,1.55,1.6,1.65,1.7,1.75,1.8,1.85,1.9,1.95,2,2.05,2.1,2.15,2.2,2.25], "labels": false, "title": null, "tickSize": {"condition": {"test": "abs(datum.value*5-round(datum.value*5))<0.001", "value": -12}, "value": -7}}},
               "y2": {"field": "yhi"}}},
            {"data": {"name": "cur"}, "transform": [{"filter": "datum.p === 'b' && datum.s === 'pink'"}], "mark": {"type": "line", "color": "#f6a5cf", "strokeWidth": 3.5, "clip": true},
             "encoding": {"x": {"field": "k", "type": "quantitative", "axis": null}, "y": {"field": "c", "type": "quantitative", "axis": null}}},
            {"data": {"name": "cur"}, "transform": [{"filter": "datum.p === 'b' && datum.s === 'green'"}], "mark": {"type": "line", "color": "#00ea00", "strokeWidth": 2.2, "clip": true},
             "encoding": {"x": {"field": "k", "type": "quantitative", "axis": null}, "y": {"field": "c", "type": "quantitative", "axis": null}}},
            {"data": {"name": "cur"}, "transform": [{"filter": "datum.p === 'b' && datum.s === 'red'"}], "mark": {"type": "line", "color": "#ff0000", "strokeWidth": 2, "clip": true},
             "encoding": {"x": {"field": "k", "type": "quantitative", "axis": null}, "y": {"field": "c", "type": "quantitative", "axis": null}}},
            {"data": {"name": "pts"}, "mark": {"type": "rule", "color": "black", "strokeWidth": 1, "clip": true},
             "encoding": {"x": {"field": "klo", "type": "quantitative", "axis": null}, "x2": {"field": "khi"}, "y": {"field": "C", "type": "quantitative", "axis": null}}},
            {"data": {"name": "pts"}, "mark": {"type": "rule", "color": "black", "strokeWidth": 1, "clip": true},
             "encoding": {"x": {"field": "k", "type": "quantitative", "axis": null}, "y": {"field": "slo", "type": "quantitative", "axis": null}, "y2": {"field": "shi"}}},
            {"data": {"name": "pts"}, "mark": {"type": "point", "shape": "circle", "filled": false, "size": 24, "strokeWidth": 1, "color": "black", "clip": true},
             "encoding": {
               "x": {"field": "k", "type": "quantitative", "axis": {"orient": "top", "values": [0,20,40,60,80,100,120,140,160,180,200,220,240,260,280,300,320,340,360,380,400,420,440], "labels": false, "title": null, "tickSize": {"condition": {"test": "datum.value % 100 === 0", "value": -7}, "value": -3.5}}},
               "y": {"field": "C", "type": "quantitative", "axis": {"orient": "right", "values": [0.95,1,1.05,1.1,1.15,1.2,1.25,1.3,1.35,1.4,1.45,1.5,1.55,1.6,1.65,1.7,1.75,1.8,1.85,1.9,1.95,2,2.05,2.1,2.15,2.2,2.25], "labels": false, "title": null, "tickSize": {"condition": {"test": "abs(datum.value*5-round(datum.value*5))<0.001", "value": -12}, "value": -7}}}}},
            {"data": {"values": [{}]}, "mark": {"type": "text", "text": "b)", "align": "left", "baseline": "alphabetic", "font": "Liberation Serif", "fontWeight": "bold", "fontSize": 18},
             "encoding": {"x": {"datum": 72, "type": "quantitative", "axis": null}, "y": {"datum": 2.105, "type": "quantitative", "axis": null}}},
            {"data": {"values": [{}]}, "mark": {"type": "text", "text": "Assume a negligible", "align": "left", "baseline": "alphabetic", "fontSize": 16},
             "encoding": {"x": {"datum": 104.5, "type": "quantitative", "axis": null}, "y": {"datum": 2.105, "type": "quantitative", "axis": null}}},
            {"data": {"values": [{}]}, "mark": {"type": "text", "text": "pΣ⁰ strong interaction", "align": "left", "baseline": "alphabetic", "fontSize": 16},
             "encoding": {"x": {"datum": 104.5, "type": "quantitative", "axis": null}, "y": {"datum": 1.968, "type": "quantitative", "axis": null}}}
          ]
        },
        {
          "bounds": "flush",
          "spacing": 0,
          "vconcat": [
            {
              "width": 362, "height": 107,
              "resolve": {"axis": {"x": "independent", "y": "independent"}},
              "layer": [
                {"data": {"name": "pts"}, "mark": {"type": "bar", "size": 8, "color": "#9c9c9c", "clip": true},
                 "encoding": {
                   "x": {"field": "k", "type": "quantitative", "scale": {"domain": [0, 452.5], "nice": false, "zero": false},
                         "axis": {"orient": "bottom", "values": [0,20,40,60,80,100,120,140,160,180,200,220,240,260,280,300,320,340,360,380,400,420,440], "labels": false, "title": null, "tickSize": {"condition": {"test": "datum.value % 100 === 0", "value": -6}, "value": -3}}},
                   "y": {"field": "ylo", "type": "quantitative", "scale": {"domain": [0.9656, 1.0637], "nice": false, "zero": false},
                         "axis": {"orient": "left", "values": [0.97,0.98,0.99,1,1.01,1.02,1.03,1.04,1.05,1.06], "labels": false, "title": null, "tickSize": {"condition": {"test": "abs(datum.value*50-round(datum.value*50))<0.001", "value": -12}, "value": -6}}},
                   "y2": {"field": "yhi"}}},
                {"data": {"name": "cur"}, "transform": [{"filter": "datum.p === 'b' && datum.s === 'pink'"}], "mark": {"type": "area", "color": "#f6a5cf", "clip": true},
                 "encoding": {"x": {"field": "k", "type": "quantitative", "axis": null}, "y": {"field": "lo", "type": "quantitative", "axis": null}, "y2": {"field": "hi"}}},
                {"data": {"name": "cur"}, "transform": [{"filter": "datum.p === 'b' && datum.s === 'gray'"}], "mark": {"type": "area", "color": "#555555", "opacity": 0.9, "clip": true},
                 "encoding": {"x": {"field": "k", "type": "quantitative", "axis": null}, "y": {"field": "lo", "type": "quantitative", "axis": null}, "y2": {"field": "hi"}}},
                {"data": {"name": "cur"}, "transform": [{"filter": "datum.p === 'b' && datum.s === 'green'"}], "mark": {"type": "line", "color": "#00ea00", "strokeWidth": 2.5, "clip": true},
                 "encoding": {"x": {"field": "k", "type": "quantitative", "axis": null}, "y": {"field": "c", "type": "quantitative", "axis": null}}},
                {"data": {"name": "cur"}, "transform": [{"filter": "datum.p === 'b' && datum.s === 'red' && datum.k <= 120"}], "mark": {"type": "line", "color": "#ff0000", "strokeWidth": 1.2, "clip": true},
                 "encoding": {"x": {"field": "k", "type": "quantitative", "axis": null}, "y": {"field": "c", "type": "quantitative", "axis": null}}},
                {"data": {"name": "cur"}, "transform": [{"filter": "datum.p === 'b' && datum.s === 'red' && datum.k >= 118"}], "mark": {"type": "line", "color": "#ff2020", "strokeWidth": 3, "clip": true},
                 "encoding": {"x": {"field": "k", "type": "quantitative", "axis": null}, "y": {"field": "c", "type": "quantitative", "axis": null}}},
                {"data": {"name": "pts"}, "mark": {"type": "rule", "color": "black", "strokeWidth": 1, "clip": true},
                 "encoding": {"x": {"field": "klo", "type": "quantitative", "axis": null}, "x2": {"field": "khi"}, "y": {"field": "C", "type": "quantitative", "axis": null}}},
                {"data": {"name": "pts"}, "mark": {"type": "rule", "color": "black", "strokeWidth": 1, "clip": true},
                 "encoding": {"x": {"field": "k", "type": "quantitative", "axis": null}, "y": {"field": "slo", "type": "quantitative", "axis": null}, "y2": {"field": "shi"}}},
                {"data": {"name": "pts"}, "mark": {"type": "point", "shape": "circle", "filled": false, "size": 24, "strokeWidth": 1, "color": "black", "clip": true},
                 "encoding": {
                   "x": {"field": "k", "type": "quantitative", "axis": {"orient": "top", "values": [0,20,40,60,80,100,120,140,160,180,200,220,240,260,280,300,320,340,360,380,400,420,440], "labels": false, "title": null, "tickSize": {"condition": {"test": "datum.value % 100 === 0", "value": -6}, "value": -3}}},
                   "y": {"field": "C", "type": "quantitative", "axis": {"orient": "right", "values": [0.97,0.98,0.99,1,1.01,1.02,1.03,1.04,1.05,1.06], "labels": false, "title": null, "tickSize": {"condition": {"test": "abs(datum.value*50-round(datum.value*50))<0.001", "value": -12}, "value": -6}}}}}
              ]
            },
            {
              "width": 362, "height": 65,
              "resolve": {"axis": {"x": "independent", "y": "independent"}},
              "layer": [
                {"data": {"values": [{}]}, "mark": {"type": "rule", "color": "black", "strokeWidth": 1},
                 "encoding": {
                   "x": {"datum": 0, "type": "quantitative", "scale": {"domain": [0, 452.5], "nice": false, "zero": false},
                         "axis": {"orient": "bottom", "values": [0,20,40,60,80,100,120,140,160,180,200,220,240,260,280,300,320,340,360,380,400,420,440], "labelExpr": "datum.value % 100 === 0 ? datum.label : ''", "tickSize": {"condition": {"test": "datum.value % 100 === 0", "value": -7}, "value": -3.5}, "labelPadding": 12.5, "title": "k* (MeV/c)", "titleX": 362, "titleY": 36, "titleAlign": "right", "titleBaseline": "alphabetic", "titleAnchor": "end"}},
                   "x2": {"datum": 452.5},
                   "y": {"datum": 0, "type": "quantitative", "scale": {"domain": [-5.98, 6.54], "nice": false, "zero": false},
                         "axis": {"orient": "left", "values": [-5,-4,-3,-2,-1,0,1,2,3,4,5,6], "labels": false, "title": null, "tickSize": {"condition": {"test": "datum.value % 5 === 0", "value": -8}, "value": -4}}}}},
                {"data": {"name": "ns"}, "transform": [{"filter": "datum.p === 'b'"}], "mark": {"type": "area", "color": "#ff0000", "opacity": 0.7, "clip": true},
                 "encoding": {
                   "x": {"field": "k", "type": "quantitative", "axis": {"orient": "top", "values": [0,20,40,60,80,100,120,140,160,180,200,220,240,260,280,300,320,340,360,380,400,420,440], "labels": false, "title": null, "tickSize": {"condition": {"test": "datum.value % 100 === 0", "value": -4}, "value": -2}}},
                   "y": {"field": "lo", "type": "quantitative", "axis": {"orient": "right", "values": [-5,-4,-3,-2,-1,0,1,2,3,4,5,6], "labels": false, "title": null, "tickSize": {"condition": {"test": "datum.value % 5 === 0", "value": -8}, "value": -4}}},
                   "y2": {"field": "hi"}}}
              ]
            }
          ]
        }
      ]
    }
  ]
}
